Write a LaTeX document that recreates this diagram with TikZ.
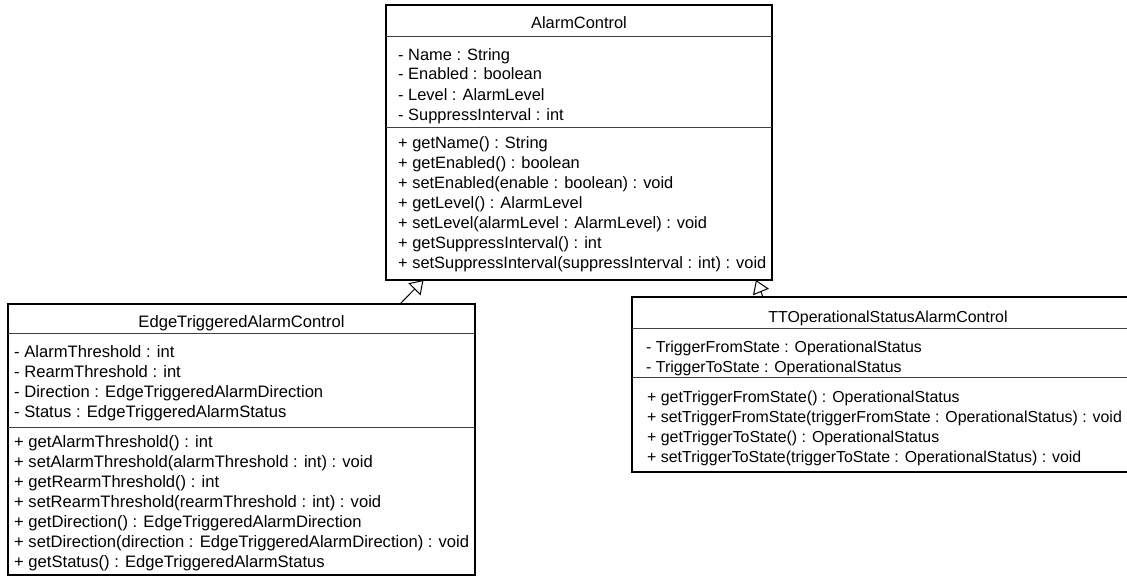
\documentclass[tikz,border=0pt]{standalone}
\usepackage{fontspec}
\setmainfont{Liberation Sans}
\usetikzlibrary{arrows.meta}
\newcommand\umlfont{\fontsize{16.4}{20}\selectfont}
\newcommand\umlwidefont{\fontsize{16.6}{20}\selectfont}
\newcommand\umlnarrowfont{\fontsize{15.9}{20}\selectfont}
\begin{document}
\begin{tikzpicture}[x=1pt,y=-1pt,
  classbox/.style={draw=black, line width=2pt, fill=white, inner sep=0pt, outer sep=0pt, anchor=north west},
  sep/.style={draw=black!75, line width=1pt},
  member/.style={anchor=base west, inner sep=0pt, font=\umlfont},
  classtitle/.style={anchor=base, inner sep=0pt, font=\umlfont},
  gen/.style={draw=black, line width=1pt, -{Triangle[open, length=13pt, width=17pt, line width=1pt]}}]

\useasboundingbox (0,0) rectangle (1127,578);
\fill[white] (0,0) rectangle (1127,578);
\clip (0,0) rectangle (1127,578);

% ---- AlarmControl ----
\node[classbox, minimum width=386pt, minimum height=275pt] (ac) at (386,5) {};
\draw[sep] ([yshift=-32pt]ac.north west) -- ([yshift=-32pt]ac.north east);
\draw[sep] ([yshift=-122pt]ac.north west) -- ([yshift=-122pt]ac.north east);
\node[classtitle] (ac-title) at (579,29) {AlarmControl};
\foreach \t [count=\i] in {{- Name : String},{- Enabled : boolean},{- Level : AlarmLevel},{- SuppressInterval : int}}
  \node[member] (ac-a\i) at (398,{40+20*\i}) {\t};
\foreach \t [count=\i] in {{+ getName() : String},{+ getEnabled() : boolean},{+ setEnabled(enable : boolean) : void},{+ getLevel() : AlarmLevel},{+ setLevel(alarmLevel : AlarmLevel) : void},{+ getSuppressInterval() : int},{+ setSuppressInterval(suppressInterval : int) : void}}
  \node[member] (ac-m\i) at (398,{128+20*\i}) {\t};

% ---- EdgeTriggeredAlarmControl ----
\begin{scope}[member/.append style={font=\umlwidefont}, classtitle/.append style={font=\umlwidefont}]
\node[classbox, minimum width=467pt, minimum height=271pt] (etac) at (8,304) {};
\draw[sep] ([yshift=-29pt]etac.north west) -- ([yshift=-29pt]etac.north east);
\draw[sep] ([yshift=-123pt]etac.north west) -- ([yshift=-123pt]etac.north east);
\node[classtitle] (etac-title) at (241.5,327) {EdgeTriggeredAlarmControl};
\foreach \t [count=\i] in {{- AlarmThreshold : int},{- RearmThreshold : int},{- Direction : EdgeTriggeredAlarmDirection},{- Status : EdgeTriggeredAlarmStatus}}
  \node[member] (etac-a\i) at (14,{337+20*\i}) {\t};
\foreach \t [count=\i] in {{+ getAlarmThreshold() : int},{+ setAlarmThreshold(alarmThreshold : int) : void},{+ getRearmThreshold() : int},{+ setRearmThreshold(rearmThreshold : int) : void},{+ getDirection() : EdgeTriggeredAlarmDirection},{+ setDirection(direction : EdgeTriggeredAlarmDirection) : void},{+ getStatus() : EdgeTriggeredAlarmStatus}}
  \node[member] (etac-m\i) at (14,{427+20*\i}) {\t};
\end{scope}

% ---- TTOperationalStatusAlarmControl ----
\begin{scope}[member/.append style={font=\umlnarrowfont}, classtitle/.append style={font=\umlnarrowfont}]
\node[classbox, minimum width=512pt, minimum height=175pt] (ttos) at (632,297) {};
\draw[sep] ([yshift=-31pt]ttos.north west) -- ([yshift=-31pt]ttos.north east);
\draw[sep] ([yshift=-80.5pt]ttos.north west) -- ([yshift=-80.5pt]ttos.north east);
\node[classtitle] (ttos-title) at (888,322) {TTOperationalStatusAlarmControl};
\foreach \t [count=\i] in {{- TriggerFromState : OperationalStatus},{- TriggerToState : OperationalStatus}}
  \node[member] (ttos-a\i) at (646,{332+20*\i}) {\t};
\foreach \t [count=\i] in {{+ getTriggerFromState() : OperationalStatus},{+ setTriggerFromState(triggerFromState : OperationalStatus) : void},{+ getTriggerToState() : OperationalStatus},{+ setTriggerToState(triggerToState : OperationalStatus) : void}}
  \node[member] (ttos-m\i) at (647,{382+20*\i}) {\t};
\end{scope}

% ---- generalizations ----
\draw[gen] ([xshift=392pt]etac.north west) -- ([xshift=37.5pt]ac.south west);
\draw[gen] ([xshift=131pt]ttos.north west) -- ([xshift=370pt]ac.south west);
\end{tikzpicture}
\end{document}
